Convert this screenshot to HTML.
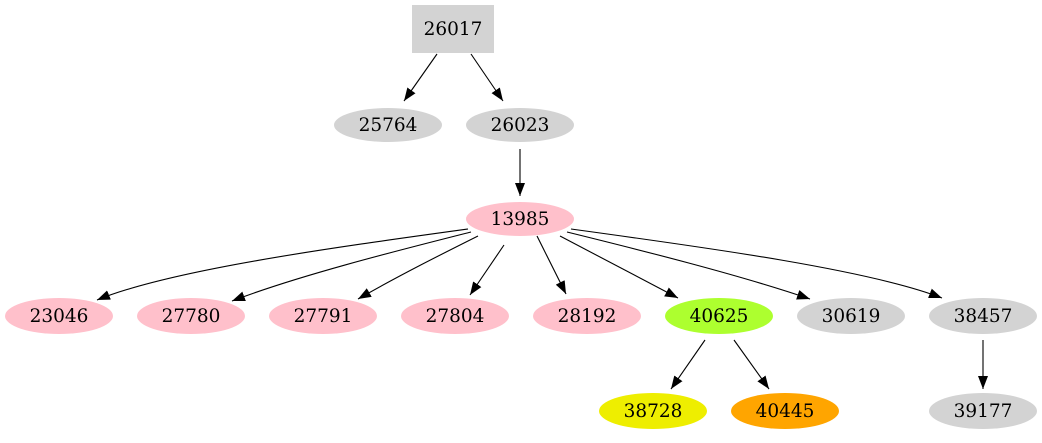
<!DOCTYPE html>
<html><head><meta charset="utf-8"><style>
html,body{margin:0;padding:0;background:#fff;}
svg{display:block;}
text{font-family:"DejaVu Serif","Liberation Serif",serif;font-size:18.5px;text-anchor:middle;fill:#000;}
</style></head><body>
<svg width="1042" height="443" viewBox="0 0 1042 443" xmlns="http://www.w3.org/2000/svg">
<defs><marker id="a" markerWidth="13" markerHeight="10" refX="13" refY="5" orient="auto" markerUnits="userSpaceOnUse"><path d="M0,0 L13,5 L0,10 z" fill="#000"/></marker></defs>
<g stroke="#000" stroke-width="1.1" fill="none" marker-end="url(#a)">
<path d="M437,54 L404,101"/>
<path d="M471,54 L503,101"/>
<path d="M520,149 L520,196"/>
<path d="M468,229 C330,248 170,270 97,300"/>
<path d="M471,232 C400,250 300,275 232,301"/>
<path d="M478,236 C440,255 400,275 358,299"/>
<path d="M504,245 L470,295"/>
<path d="M537,236 L566,294"/>
<path d="M560,236 L678,298"/>
<path d="M567,232 C640,250 740,275 810,299"/>
<path d="M571,229 C710,248 870,270 942,298"/>
<path d="M705,340 L671,389"/>
<path d="M734,340 L769,389"/>
<path d="M983,340 L983,389"/>
</g>
<rect x="412" y="5" width="82" height="48" fill="#d3d3d3"/>
<text x="453" y="35">26017</text>
<ellipse cx="388" cy="125" rx="54" ry="17" fill="#d3d3d3"/><text x="388" y="131">25764</text>
<ellipse cx="520" cy="125" rx="54" ry="17" fill="#d3d3d3"/><text x="520" y="131">26023</text>
<ellipse cx="520" cy="219" rx="54" ry="17" fill="#ffc0cb"/><text x="520" y="225">13985</text>
<ellipse cx="59" cy="316" rx="54" ry="18" fill="#ffc0cb"/><text x="59" y="322">23046</text>
<ellipse cx="191" cy="316" rx="54" ry="18" fill="#ffc0cb"/><text x="191" y="322">27780</text>
<ellipse cx="323" cy="316" rx="54" ry="18" fill="#ffc0cb"/><text x="323" y="322">27791</text>
<ellipse cx="455" cy="316" rx="54" ry="18" fill="#ffc0cb"/><text x="455" y="322">27804</text>
<ellipse cx="587" cy="316" rx="54" ry="18" fill="#ffc0cb"/><text x="587" y="322">28192</text>
<ellipse cx="719" cy="316" rx="54" ry="18" fill="#adff2f"/><text x="719" y="322">40625</text>
<ellipse cx="851" cy="316" rx="54" ry="18" fill="#d3d3d3"/><text x="851" y="322">30619</text>
<ellipse cx="983" cy="316" rx="54" ry="18" fill="#d3d3d3"/><text x="983" y="322">38457</text>
<ellipse cx="653" cy="411" rx="54" ry="18" fill="#eeee00"/><text x="653" y="417">38728</text>
<ellipse cx="785" cy="411" rx="54" ry="18" fill="#ffa500"/><text x="785" y="417">40445</text>
<ellipse cx="983" cy="411" rx="54" ry="18" fill="#d3d3d3"/><text x="983" y="417">39177</text>
</svg>
</body></html>
